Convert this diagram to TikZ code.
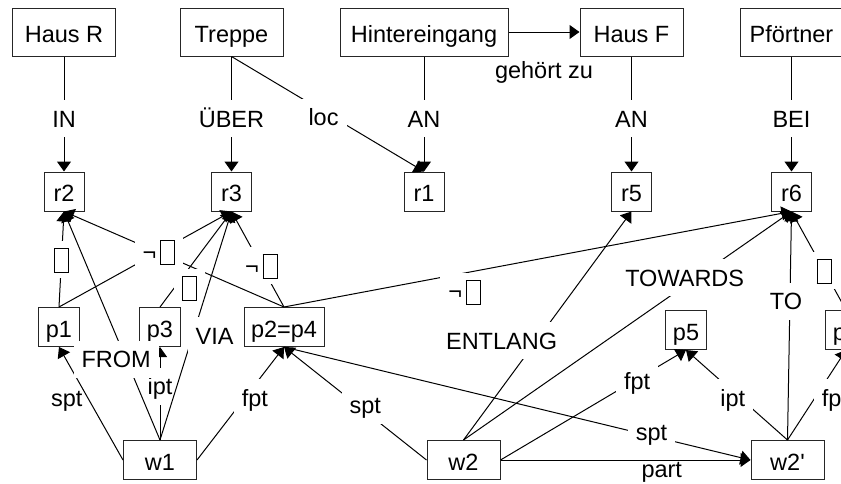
\documentclass[tikz,border=0pt]{standalone}
\usepackage{fontspec}
\setmainfont{Liberation Sans}
\usetikzlibrary{positioning,arrows.meta}

\newcommand{\tofu}{\raisebox{-4pt}{\fboxsep=0pt\fboxrule=1pt\fbox{\rule{0pt}{23pt}\hspace{13pt}}}}

\begin{document}
\begin{tikzpicture}[x=1pt, y=-1pt, node distance=115pt,
    font=\fontsize{23.5}{28}\selectfont,
    box/.style={draw=black!85, line width=1pt, minimum width=103pt, minimum height=48pt, inner xsep=9pt, text height=24pt, text depth=4pt},
    sbox/.style={draw=black!85, line width=1pt, minimum width=40pt, minimum height=39pt, inner xsep=7pt, inner ysep=2pt, text height=24pt, text depth=4pt},
    wbox/.style={sbox, minimum width=73pt},
    lab/.style={fill=white, inner xsep=8pt, inner ysep=5pt, text height=22pt, text depth=5pt},
    rel/.style={-{Triangle[length=10pt,width=14pt]}, line width=1pt}]
    \useasboundingbox (0,0) rectangle (841,483);
    \clip (0,0) rectangle (841,483);
    % Define nodes
    \node[box] (hausR) at (64,32) {Haus R};
    \node[box] (treppe) at (231.5,32) {Treppe};
    \node[box, minimum width=168pt] (hinter) at (424,32) {Hintereingang};
    \node[box] (hausF) at (631.5,32) {Haus F};
    \node[box] (pfoertner) at (791.5,32) {Pförtner};
    \node[sbox, below=of hausR] (r2) {r2};
    \node[sbox, below=of treppe] (r3) {r3};
    \node[sbox, below=of hinter] (r1) {r1};
    \node[sbox, below=of hausF] (r5) {r5};
    \node[sbox, below=of pfoertner] (r6) {r6};
    \node[sbox] (p1) at (59,327) {p1};
    \node[sbox] (p3) at (160,327) {p3};
    \node[sbox] (p24) at (284,327) {p2=p4};
    \node[sbox] (p5) at (686,330) {p5};
    \node[sbox] (p6) at (846,330) {p6};
    \node[wbox] (w1) at (160,460) {w1};
    \node[wbox] (w2) at (463.5,460) {w2};
    \node[wbox] (w2s) at (787.5,460) {w2\textquotesingle};
    % Connect nodes
    \foreach \s/\e/\lbl in {hausR/r2/IN, treppe/r3/ÜBER, hinter/r1/AN, hausF/r5/AN, pfoertner/r6/BEI}
        \draw[rel] (\s) -- node[lab, pos=0.54] {\lbl} (\e);
    \draw[rel] (treppe.south) -- node[lab, pos=0.53, xshift=-10pt] {loc} (r1.north);
    \draw[rel] (hinter) -- node[lab, fill=none, yshift=-37.5pt] {gehört zu} (hausF);
    % p to r
    \draw[rel] (p1.north) -- node[lab, pos=0.5] {\tofu} (r2.south);
    \draw[rel] (p24.north) -- (r2.south);
    \draw[rel] (p1.north) -- node[lab, pos=0.58] {¬\,\tofu} (r3.south);
    \draw[rel] (p3.north) -- node[lab, pos=0.2, xshift=15pt] {\tofu} (r3.south);
    \draw[rel] (p24.north) -- node[lab, pos=0.43] {¬\,\tofu} (r3.south);
    \draw[rel] (p24.north) -- node[lab, pos=0.356, yshift=-18pt] {¬\,\tofu} (r6.south);
    \draw[rel] (p6.north) -- node[lab, pos=0.4] {\tofu} (r6.south);
    % w1
    \draw[rel] (w1.west) -- node[lab, fill=none, pos=0.55, xshift=-21pt] {spt} (p1.south);
    \draw[rel] (w1.north) -- node[lab, pos=0.58] {ipt} (p3.south);
    \draw[rel] (w1.north) -- node[lab, pos=0.353, xshift=-10pt] {FROM} (r2.south);
    \draw[rel] (w1.north) -- node[lab, pos=0.457, xshift=22pt] {VIA} (r3.south);
    \draw[rel] (w1.east) -- node[lab, pos=0.55, xshift=10pt] {fpt} (p24.south);
    % w2
    \draw[rel] (w2.west) -- node[lab, pos=0.43, yshift=6pt] {spt} (p24.south);
    \draw[rel] (w2.north) -- node[lab, pos=0.435, xshift=-35pt] {ENTLANG} (r5.south);
    \draw[rel] (w2.north) -- node[lab, pos=0.711, xshift=-12pt] {TOWARDS} (r6.south);
    \draw[rel] (w2.east) -- node[lab, pos=0.72, xshift=3pt] {fpt} (p5.south);
    \draw[rel] (p24.south) -- node[lab, pos=0.788, yshift=4pt] {spt} (w2s.west);
    \draw[rel] (w2.east) -- node[lab, fill=none, pos=0.645, yshift=-8.5pt] {part} (w2s.west);
    % w2'
    \draw[rel] (w2s.north) -- node[lab, pos=0.608, xshift=-4pt] {TO} (r6.south);
    \draw[rel] (w2s.north) -- node[lab, pos=0.47, xshift=-7pt] {ipt} (p5.south);
    \draw[rel] (w2s.north) -- node[lab, pos=0.47, xshift=20pt] {fpt} (p6.south);
\end{tikzpicture}
\end{document}
